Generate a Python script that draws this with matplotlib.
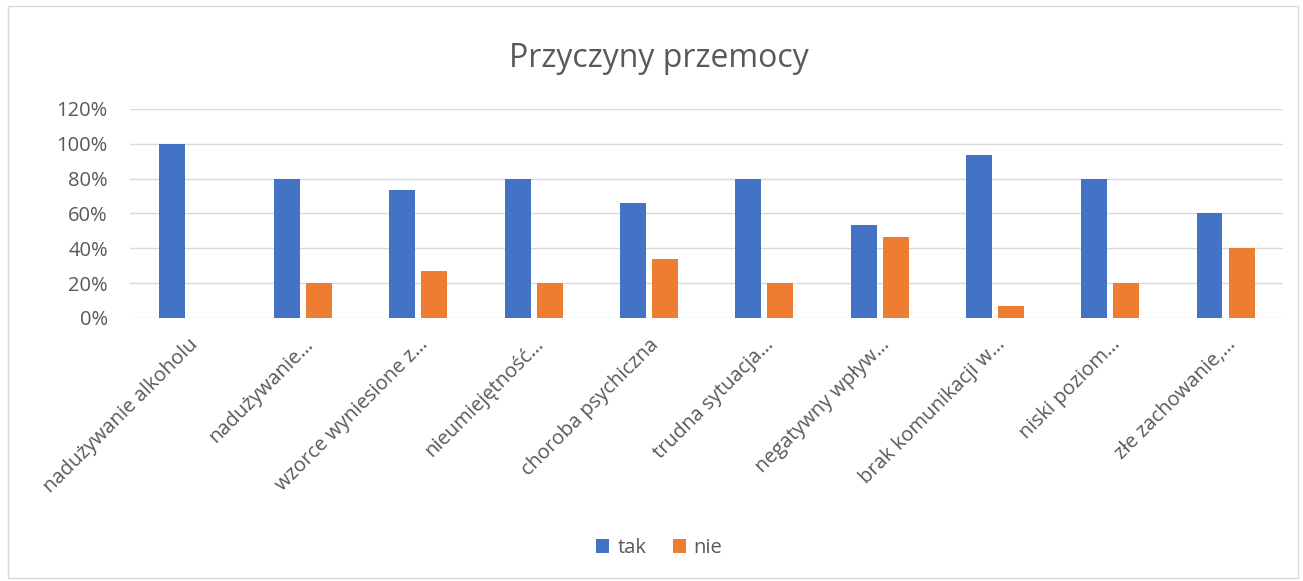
import matplotlib.pyplot as plt
import numpy as np

categories = [
    "nadużywanie alkoholu", "nadużywanie…", "wzorce wyniesione z…",
    "nieumiejętność…", "choroba psychiczna", "trudna sytuacja…",
    "negatywny wpływ…", "brak komunikacji w…", "niski poziom…",
    "złe zachowanie,…",
]
tak = [100, 80, 73.3, 80, 66, 80, 53.3, 93.3, 80, 60]
nie = [0, 20, 26.7, 20, 34, 20, 46.7, 6.7, 20, 40]
yticks = [0, 20, 40, 60, 80, 100, 120]

plt.rcParams["font.family"] = ["Open Sans", "DejaVu Sans"]
text_col = "#595959"

fig = plt.figure(figsize=(13.03, 5.81), dpi=100)
ax = fig.add_axes([0.0998, 0.4527, 0.885, 0.3597])

x = np.arange(len(categories))
w = 0.225
ax.bar(x - 0.139, tak, w, color="#4472C4", label="tak", zorder=3)
ax.bar(x + 0.139, nie, w, color="#ED7D31", label="nie", zorder=3)

ax.set_xlim(-0.5, len(categories) - 0.5)
ax.set_ylim(0, 120)
ax.set_yticks(yticks)
ax.set_yticklabels([f"{v}%" for v in yticks], fontsize=14.5, color=text_col)
ax.set_xticks(x)
ax.set_xticklabels(categories, rotation=45, ha="right", rotation_mode="anchor",
                   fontsize=14.5, color=text_col)
ax.tick_params(length=0)
ax.tick_params(axis="y", pad=16)
ax.tick_params(axis="x", pad=12)
ax.grid(axis="y", color="#d9d9d9", linewidth=1, zorder=0)
for s in ax.spines.values():
    s.set_visible(False)

fig.text(0.506, 0.9, "Przyczyny przemocy", ha="center", va="center",
         fontsize=23, color=text_col)
fig.legend(loc="center", bbox_to_anchor=(0.506, 0.057), ncol=2, frameon=False,
           fontsize=14.5, labelcolor=text_col, handlelength=0.65, handleheight=0.65,
           columnspacing=1.3, handletextpad=0.4)

border = plt.Rectangle((0.006, 0.005), 0.99, 0.985, transform=fig.transFigure,
                       fill=False, edgecolor="#d9d9d9", linewidth=1)
fig.add_artist(border)

fig.savefig("out.png", dpi=100)
